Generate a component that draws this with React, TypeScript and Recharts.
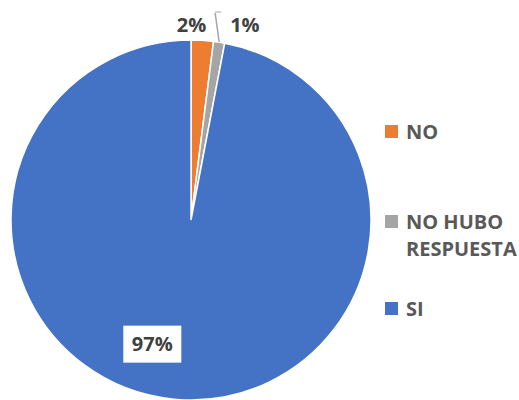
import { PieChart, Pie, Cell, Legend } from 'recharts';

const categories = ['NO', 'NO HUBO RESPUESTA', 'SI'];
const values = [2, 1, 97];
const colors = ['#ED7D31', '#A5A5A5', '#4472C4'];
const legendLines = [['NO'], ['NO HUBO', 'RESPUESTA'], ['SI']];
const legendTops = [118, 208, 295];

const data = categories.map((name, i) => ({ name, value: values[i] }));

const FONT = '"Open Sans", sans-serif';
const RAD = Math.PI / 180;

const renderLabel = (props: any) => {
  const { cx, cy, midAngle, outerRadius, index, percent } = props;
  const text = `${Math.round(percent * 100)}%`;
  const common = { fontFamily: FONT, fontWeight: 700, fontSize: 20, fill: '#404040' };

  if (index === 0) {
    const r = outerRadius + 16;
    const x = cx + r * Math.cos(-midAngle * RAD);
    const y = cy + r * Math.sin(-midAngle * RAD);
    return (
      <text x={x + 3} y={y} textAnchor="end" dominantBaseline="central" {...common}>
        {text}
      </text>
    );
  }

  if (index === 1) {
    const ex = cx + outerRadius * Math.cos(-midAngle * RAD);
    const ey = cy + outerRadius * Math.sin(-midAngle * RAD);
    const topY = cy - outerRadius - 27;
    return (
      <g>
        <path d={`M${ex},${ey} L${ex - 4},${topY}`} stroke="#A5A5A5" strokeWidth={1.5} fill="none" />
        <path d={`M${ex - 4},${topY - 1} L${ex + 2},${topY - 1}`} stroke="#A5A5A5" strokeWidth={1} fill="none" />
        <text x={ex + 11} y={cy - outerRadius - 16} textAnchor="start" dominantBaseline="central" {...common}>
          {text}
        </text>
      </g>
    );
  }

  const r = outerRadius * 0.69;
  const x = cx + r * Math.cos(-midAngle * RAD) - 27;
  const y = cy + r * Math.sin(-midAngle * RAD);
  return (
    <g>
      <rect x={x - 29} y={y - 18} width={58} height={37} fill="#fff" />
      <text x={x} y={y} textAnchor="middle" dominantBaseline="central" {...common}>
        {text}
      </text>
    </g>
  );
};

const renderLegend = () => (
  <div style={{ position: 'relative', width: 134, height: 400 }}>
    {legendLines.map((lines, i) => (
      <div
        key={i}
        style={{
          position: 'absolute',
          top: legendTops[i],
          left: 0,
          display: 'flex',
          alignItems: 'flex-start',
          fontFamily: FONT,
          fontWeight: 700,
          fontSize: 20,
          lineHeight: '27px',
          color: '#595959',
          whiteSpace: 'nowrap',
        }}
      >
        <span
          style={{
            display: 'inline-block',
            width: 13,
            height: 13,
            background: colors[i],
            marginTop: 7,
            marginRight: 8,
          }}
        />
        <div>
          {lines.map((l) => (
            <div key={l}>{l}</div>
          ))}
        </div>
      </div>
    ))}
  </div>
);

export default function App() {
  return (
    <div style={{ position: 'absolute', left: 0, top: 0, width: 519, height: 400, background: '#fff', overflow: 'hidden' }}>
      <PieChart width={519} height={400} margin={{ top: 0, right: 0, bottom: 0, left: 0 }}>
        <Pie
          data={data}
          dataKey="value"
          nameKey="name"
          cx={191}
          cy={220}
          outerRadius={180}
          startAngle={90}
          endAngle={-270}
          stroke="#fff"
          strokeWidth={1.5}
          labelLine={false}
          label={renderLabel}
          isAnimationActive={false}
        >
          {data.map((d, i) => (
            <Cell key={d.name} fill={colors[i]} />
          ))}
        </Pie>
        <Legend
          content={renderLegend}
          wrapperStyle={{ position: 'absolute', left: 385, top: 0, width: 134, height: 400 }}
        />
      </PieChart>
    </div>
  );
}
